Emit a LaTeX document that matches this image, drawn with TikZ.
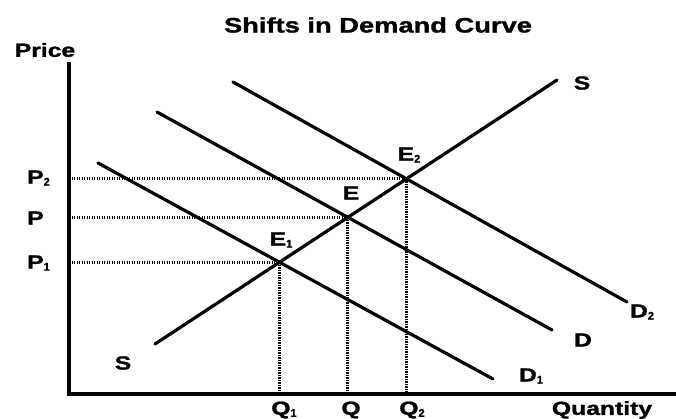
\documentclass[tikz,border=0pt]{standalone}
\usepackage{fontspec}
\setmainfont{Liberation Sans}[BoldFeatures={FakeBold=1.2}]
\usetikzlibrary{intersections}
\newcommand\stx[1]{\scalebox{1.3}[1]{#1}}
\newcommand\sbs[1]{\raisebox{-2pt}{\fontsize{11}{11}\selectfont #1}}
\begin{document}
\begin{tikzpicture}[x=1pt,y=-1pt,
  curve/.style={line width=3.2pt,line cap=round},
  axisline/.style={line width=3.5pt},
  guide/.style={line width=2.8pt,dash pattern=on 1.4pt off 1.1pt},
  lab/.style={font=\fontsize{19}{19}\selectfont\bfseries,inner sep=0pt},
  ttl/.style={font=\fontsize{21}{21}\selectfont\bfseries,inner sep=0pt}]
\useasboundingbox (0,0) rectangle (676,418);
% axes
\coordinate (top) at (69,62);
\coordinate (O) at (69,394);
\coordinate (xend) at (676,394);
\draw[axisline] (top) -- (O) -- (xend);
% curves
\coordinate (Sa) at (155,344); \coordinate (Sb) at (557,80);
\coordinate (D1a) at (98,163); \coordinate (D1b) at (493,379);
\coordinate (Da) at (157,112); \coordinate (Db) at (552,330);
\coordinate (D2a) at (233,82); \coordinate (D2b) at (627,302);
\draw[curve,name path=S] (Sa) -- (Sb);
\draw[curve,name path=D1] (D1a) -- (D1b);
\draw[curve,name path=D] (Da) -- (Db);
\draw[curve,name path=D2] (D2a) -- (D2b);
\path[name intersections={of=S and D1,by=E1}];
\path[name intersections={of=S and D,by=E}];
\path[name intersections={of=S and D2,by=E2}];
% guides
\foreach \p in {E1,E,E2}{
  \draw[guide] (\p -| O) -- (\p);
  \draw[guide] (\p) -- (\p |- O);
}
% labels
\node[ttl] (title) at (378,25) {\stx{Shifts in Demand Curve}};
\node[lab] (price) at (45,50) {\stx{Price}};
\node[lab,anchor=west] (lp2) at (27,178) {\stx{P}\sbs{2}};
\node[lab,anchor=west] (lp) at (27,218) {\stx{P}};
\node[lab,anchor=west] (lp1) at (27,263) {\stx{P}\sbs{1}};
\node[lab] (le2) at (409,155) {\stx{E}\sbs{2}};
\node[lab] (le) at (351,193) {\stx{E}};
\node[lab] (le1) at (281,240) {\stx{E}\sbs{1}};
\node[lab] (lst) at (582,83) {\stx{S}};
\node[lab] (lsb) at (123,363) {\stx{S}};
\node[lab] (ld2) at (642,312) {\stx{D}\sbs{2}};
\node[lab] (ld) at (583,340) {\stx{D}};
\node[lab] (ld1) at (531,376) {\stx{D}\sbs{1}};
\node[lab] (lq1) at (284,410) {\stx{Q}\sbs{1}};
\node[lab] (lq) at (351,410) {\stx{Q}};
\node[lab] (lq2) at (412,410) {\stx{Q}\sbs{2}};
\node[lab] (lqty) at (602,410) {\stx{Quantity}};
\end{tikzpicture}
\end{document}
